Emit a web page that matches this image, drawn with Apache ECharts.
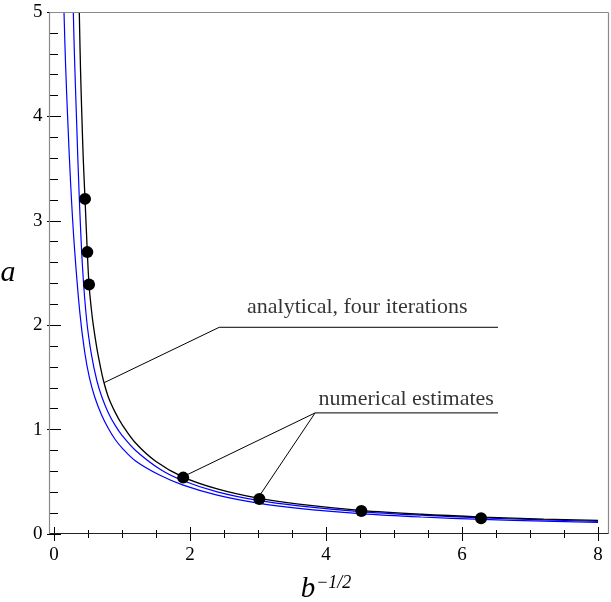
<!DOCTYPE html>
<html><head><meta charset="utf-8">
<script src="https://cdn.jsdelivr.net/npm/echarts@6/dist/echarts.min.js"></script>
<style>html,body{margin:0;padding:0;background:#fff}#c{width:611px;height:602px}</style>
</head><body><div id="c"></div>
<script>
// ---- data ----
const blackX = [0.372,0.39,0.41,0.43,0.456,0.49,0.515,0.55,0.578,0.63,0.68,0.725,0.8,0.9,1.0,1.2,1.5,1.9,2.4,3.0,3.6,4.5,5.4,6.3,7.2,8.0];
const blackA = [5.0,4.45,4.0,3.6,3.21,2.70,2.39,2.15,2.0,1.78,1.61,1.475,1.31,1.165,1.05,0.872,0.695,0.545,0.432,0.343,0.286,0.227,0.189,0.162,0.142,0.13];
const blue2X = [0.284,0.30,0.33,0.37,0.42,0.48,0.55,0.628,0.7,0.8,0.9,1.0,1.2,1.56,1.9,2.4,3.0,3.6,4.5,5.4,6.3,7.2,8.0];
const blue2A = [5.0,4.6,4.0,3.25,2.55,2.05,1.72,1.475,1.32,1.16,1.04,0.945,0.8,0.62,0.51,0.404,0.322,0.27,0.215,0.18,0.154,0.135,0.121];
const blue1X = [0.147,0.17,0.2,0.245,0.3,0.38,0.45,0.52,0.6,0.7,0.8,0.9,1.0,1.2,1.56,1.9,2.4,3.0,3.6,4.5,5.4,6.3,7.2,8.0];
const blue1A = [5.0,4.5,4.0,3.35,2.75,2.12,1.75,1.5,1.31,1.14,1.01,0.905,0.825,0.7,0.562,0.468,0.372,0.296,0.246,0.196,0.163,0.14,0.123,0.11];
const pointsX = [0.456,0.49,0.515,1.90,3.02,4.52,6.28];
const pointsA = [3.21,2.70,2.39,0.54,0.335,0.22,0.15];
const xTickValues = [0,2,4,6,8];
const yTickValues = [0,1,2,3,4,5];
const labelAnalytical = 'analytical, four iterations';
const labelNumerical = 'numerical estimates';
const analyticalLeaderX = [0.74,2.43,6.53];
const analyticalLeaderA = [1.45,1.98,1.98];
const numericalLeader1X = [1.95,3.84,6.53];
const numericalLeader1A = [0.565,1.16,1.16];
const numericalLeader2X = [3.03,3.84];
const numericalLeader2A = [0.374,1.16];
const textAnchorX = [4.46,5.18];
const textAnchorA = [2.17,1.29];
const xName = 'b';
const xNameSup = '\u22121/2';
const yName = 'a';

const zip = (xs, ys) => xs.map((x, i) => [x, ys[i]]);
const serif = 'Liberation Serif, Times New Roman, DejaVu Serif, serif';

const chart = echarts.init(document.getElementById('c'), null, {renderer: 'canvas'});

const tick = {show: true, inside: true, length: 7, lineStyle: {color: '#000', width: 1}};
const xMinor = {show: true, splitNumber: 4, length: 4, lineStyle: {color: '#000', width: 1}};
const yMinor = {show: true, splitNumber: 5, length: 4, lineStyle: {color: '#000', width: 1}};
const xMin = xTickValues[0], xMax = xTickValues[xTickValues.length - 1];
const yMin = yTickValues[0], yMax = yTickValues[yTickValues.length - 1];

const option = {
  animation: false,
  backgroundColor: '#fff',
  grid: {left: 54, right: 13, top: 12, bottom: 68, containLabel: false, outerBoundsMode: 'none'},
  xAxis: [
    {
      type: 'value', min: xMin, max: xMax, interval: 2, position: 'bottom',
      axisLabel: {color: '#000', fontFamily: serif, fontSize: 19, margin: 12},
      axisTick: tick, minorTick: xMinor, splitLine: {show: false}, axisLine: {show: false},
      name: '{b|' + xName + '}{s|' + xNameSup + '}',
      nameLocation: 'middle', nameGap: 40,
      nameTextStyle: {
        rich: {
          b: {fontFamily: serif, fontStyle: 'italic', fontSize: 29, color: '#000', lineHeight: 30, verticalAlign: 'bottom'},
          s: {fontFamily: serif, fontStyle: 'italic', fontSize: 18, color: '#000', lineHeight: 30, verticalAlign: 'top', padding: [0,0,0,1]}
        }
      }
    },
    {
      type: 'value', min: xMin, max: xMax, interval: 2, position: 'top',
      axisLabel: {show: false}, axisTick: tick, minorTick: xMinor,
      splitLine: {show: false}, axisLine: {show: false}
    }
  ],
  yAxis: [
    {
      type: 'value', min: yMin, max: yMax, interval: 1, position: 'left', offset: 4.5,
      axisLabel: {color: '#000', fontFamily: serif, fontSize: 19, margin: 7},
      axisTick: tick, minorTick: yMinor, splitLine: {show: false}, axisLine: {show: false},
      name: yName, nameLocation: 'middle', nameGap: 34, nameRotate: 0,
      nameTextStyle: {fontFamily: serif, fontStyle: 'italic', fontSize: 30, color: '#000'}
    },
    {
      type: 'value', min: yMin, max: yMax, interval: 1, position: 'right', offset: 10,
      axisLabel: {show: false}, axisTick: tick, minorTick: yMinor,
      splitLine: {show: false}, axisLine: {show: false}
    }
  ],
  graphic: [
    {type: 'line', shape: {x1: 49.5, y1: 12.5, x2: 608.5, y2: 12.5}, style: {stroke: '#8a8a8a', lineWidth: 1.2}, z: 100},
    {type: 'line', shape: {x1: 49.5, y1: 12.5, x2: 49.5, y2: 533.5}, style: {stroke: '#8a8a8a', lineWidth: 1.2}, z: 100},
    {type: 'line', shape: {x1: 608.5, y1: 12.5, x2: 608.5, y2: 533.5}, style: {stroke: '#8a8a8a', lineWidth: 1.2}, z: 100},
    {type: 'line', shape: {x1: 49.5, y1: 533.5, x2: 608.5, y2: 533.5}, style: {stroke: '#222', lineWidth: 1.2}, z: 100}
  ],
  series: [
    {type: 'line', data: zip(blue1X, blue1A), showSymbol: false, smooth: 0.35,
     lineStyle: {color: '#0000ff', width: 1.2}, silent: true, z: 2},
    {type: 'line', data: zip(blue2X, blue2A), showSymbol: false, smooth: 0.35,
     lineStyle: {color: '#0000ff', width: 1.2}, silent: true, z: 2},
    {type: 'line', data: zip(blackX, blackA), showSymbol: false, smooth: 0.35,
     lineStyle: {color: '#000', width: 1.3}, silent: true, z: 3},
    {type: 'line', data: zip(analyticalLeaderX, analyticalLeaderA), showSymbol: false,
     lineStyle: {color: '#000', width: 1}, silent: true, z: 4},
    {type: 'line', data: zip(numericalLeader1X, numericalLeader1A), showSymbol: false,
     lineStyle: {color: '#000', width: 1}, silent: true, z: 4},
    {type: 'line', data: zip(numericalLeader2X, numericalLeader2A), showSymbol: false,
     lineStyle: {color: '#000', width: 1}, silent: true, z: 4},
    {type: 'scatter', data: zip(pointsX, pointsA), symbol: 'circle', symbolSize: 12,
     itemStyle: {color: '#000', opacity: 1}, silent: true, z: 5},
    {type: 'scatter', data: zip(textAnchorX, textAnchorA).map((p, i) => ({value: p, name: [labelAnalytical, labelNumerical][i]})),
     symbolSize: 0, silent: true, z: 6,
     label: {show: true, position: 'inside', formatter: p => p.name, color: '#000', fontFamily: serif, fontSize: 22}}
  ]
};
chart.setOption(option);
</script>
</body></html>
